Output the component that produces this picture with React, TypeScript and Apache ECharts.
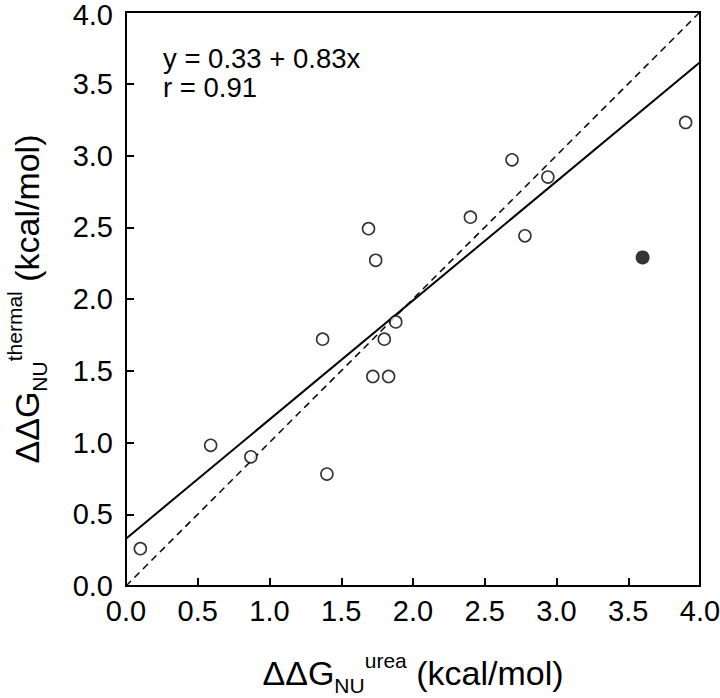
import React, { useEffect, useRef } from "react";
import * as echarts from "echarts";

// Open circles (ΔΔG urea, ΔΔG thermal)
const openX = [0.1, 0.59, 0.87, 1.37, 1.4, 1.69, 1.72, 1.74, 1.8, 1.83, 1.88, 2.4, 2.69, 2.78, 2.94, 3.9];
const openY = [0.26, 0.98, 0.9, 1.72, 0.78, 2.49, 1.46, 2.27, 1.72, 1.46, 1.84, 2.57, 2.97, 2.44, 2.85, 3.23];
// Filled (excluded) point
const filledX = [3.6];
const filledY = [2.29];
// Regression line y = 0.33 + 0.83x end points, and identity line
const fitX = [0, 4];
const fitY = [0.33, 3.65];
const idX = [0, 4];
const idY = [0, 4];
const tickValues = [0, 0.5, 1, 1.5, 2, 2.5, 3, 3.5, 4];
const eqLines = ["y = 0.33 + 0.83x", "r = 0.91"];

const FONT = "'Liberation Sans', Arial, Helvetica, sans-serif";

const zip = (xs: number[], ys: number[]) => xs.map((x, i) => [x, ys[i]]);

const titleRich = {
  m: { fontSize: 34, lineHeight: 46, fontFamily: FONT, color: "#000" },
  sub: { fontSize: 21, lineHeight: 9, verticalAlign: "bottom", fontFamily: FONT, color: "#000" },
  sup: { fontSize: 21, lineHeight: 25, verticalAlign: "top", fontFamily: FONT, color: "#000" },
};

export default function App() {
  const ref = useRef<HTMLDivElement>(null);
  useEffect(() => {
    if (!ref.current) return;
    const chart = echarts.init(ref.current, undefined, { renderer: "svg" });
    const axisCommon = {
      type: "value",
      min: tickValues[0],
      max: tickValues[tickValues.length - 1],
      interval: 0.5,
      splitLine: { show: false },
      axisLine: { show: true, lineStyle: { color: "#000", width: 2 } },
      axisTick: { show: true, inside: true, length: 8, lineStyle: { color: "#000", width: 2 } },
      nameLocation: "middle",
      nameTextStyle: { rich: titleRich },
    };
    const maxTick = tickValues[tickValues.length - 1];
    chart.setOption({
      animation: false,
      backgroundColor: "#fff",
      grid: {
        left: 126,
        right: 20,
        top: 12,
        bottom: 112,
        containLabel: false,
        outerBoundsMode: "none",
        show: true,
        borderColor: "#000",
        borderWidth: 2,
      },
      xAxis: {
        ...axisCommon,
        name: "{m|ΔΔG}{sub|NU}{sup|urea}{m| (kcal/mol)}",
        nameGap: 64,
        axisLabel: {
          margin: 14,
          fontSize: 29,
          lineHeight: 22,
          color: "#000",
          fontFamily: FONT,
          showMinLabel: true,
          showMaxLabel: true,
          formatter: (v: number) => v.toFixed(1),
        },
      },
      yAxis: {
        ...axisCommon,
        name: "{m|ΔΔG}{sub|NU}{sup|thermal}{m| (kcal/mol)}",
        nameGap: 76,
        axisLabel: {
          margin: 13,
          fontSize: 29,
          lineHeight: 22,
          color: "#000",
          fontFamily: FONT,
          showMinLabel: true,
          showMaxLabel: true,
          formatter: (v: number) => (v === maxTick ? `{t|${v.toFixed(1)}}` : v.toFixed(1)),
          rich: {
            t: { fontSize: 29, lineHeight: 22, padding: [6, 0, 0, 0], color: "#000", fontFamily: FONT },
          },
        },
      },
      graphic: eqLines.map((t, i) => ({
        type: "text",
        left: 163,
        top: 44 + i * 29,
        style: { text: t, fontSize: 27.5, fontFamily: FONT, fill: "#000" },
      })),
      series: [
        {
          type: "line",
          data: zip(idX, idY),
          showSymbol: false,
          lineStyle: { color: "#000", width: 1.5, type: [7, 5] },
          z: 1,
        },
        {
          type: "line",
          data: zip(fitX, fitY),
          showSymbol: false,
          lineStyle: { color: "#000", width: 2 },
          z: 2,
        },
        {
          type: "scatter",
          data: zip(openX, openY),
          symbol: "circle",
          symbolSize: 12,
          itemStyle: { color: "#fff", borderColor: "#000", borderWidth: 1.6 },
          z: 3,
        },
        {
          type: "scatter",
          data: zip(filledX, filledY),
          symbol: "circle",
          symbolSize: 14,
          itemStyle: { color: "#000" },
          z: 3,
        },
      ],
    });
    return () => chart.dispose();
  }, []);
  return (
    <div
      ref={ref}
      style={{ position: "fixed", left: 0, top: 0, width: 720, height: 698, background: "#fff" }}
    />
  );
}
